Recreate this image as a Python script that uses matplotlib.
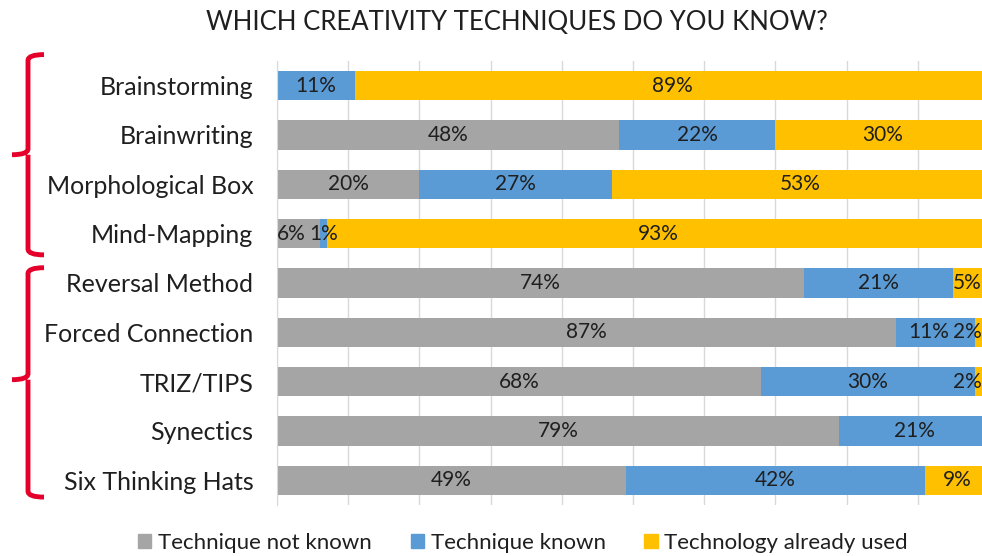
import matplotlib
matplotlib.use("Agg")
import matplotlib.pyplot as plt
import matplotlib.transforms as mtransforms
from matplotlib.path import Path
from matplotlib.patches import PathPatch, Patch
import numpy as np

# data
categories = ["Brainstorming", "Brainwriting", "Morphological Box", "Mind-Mapping",
              "Reversal Method", "Forced Connection", "TRIZ/TIPS", "Synectics",
              "Six Thinking Hats"]
not_known = [0, 48, 20, 6, 74, 87, 68, 79, 49]
known     = [11, 22, 27, 1, 21, 11, 30, 21, 42]
used      = [89, 30, 53, 93, 5, 2, 2, 0, 9]
series_names = ["Technique not known", "Technique known", "Technology already used"]
colors = ["#a5a5a5", "#5b9bd5", "#ffc000"]

plt.rcParams["font.family"] = ["Lato", "DejaVu Sans"]
TXT = "#1f1f1f"

fig = plt.figure(figsize=(9.82, 5.56), dpi=100)
W, H = 982, 556
ax = fig.add_axes([277 / W, 1 - 505 / H, 712 / W, 444 / H])

# visible right edge of the figure in data units (the 100% end is just past it)
x_edge = (W - 277) / 712 * 100

y = np.arange(len(categories))
left = np.zeros(len(categories))
row_labels = {i: [] for i in y}
for vals, col in zip([not_known, known, used], colors):
    vals = np.array(vals, dtype=float)
    ax.barh(y, vals, left=left, height=0.6, color=col, zorder=2)
    for yi, v, l in zip(y, vals, left):
        if v <= 0:
            continue
        xc = l + v / 2
        if xc + 1.6 > x_edge:
            t = ax.text(x_edge - 0.1, yi, f"{int(v)}%", ha="right", va="center",
                        fontsize=15, color=TXT, zorder=3)
        else:
            t = ax.text(xc, yi, f"{int(v)}%", ha="center", va="center",
                        fontsize=15, color=TXT, zorder=3)
        row_labels[yi].append(t)
    left += vals

ax.set_xlim(0, 100)
ax.set_ylim(len(categories) - 0.5, -0.5)
ax.set_xticks(np.arange(0, 101, 10))
ax.xaxis.grid(True, color="#d9d9d9", linewidth=1, zorder=0)
ax.tick_params(axis="x", length=0, labelbottom=False)
ax.tick_params(axis="y", length=0, pad=17)
ax.set_yticks(y)
ax.set_yticklabels(categories, fontsize=18, color=TXT)
for s in ["top", "right", "bottom"]:
    ax.spines[s].set_visible(False)
ax.spines["left"].set_color("#d9d9d9")

# push crowded value labels apart (right to left) so they do not overlap
fig.canvas.draw()
rend = fig.canvas.get_renderer()
px = 100 / 712
for labels in row_labels.values():
    for a, b in zip(labels[-2::-1], labels[:0:-1]):
        ea, eb = a.get_window_extent(rend), b.get_window_extent(rend)
        overlap = ea.x1 + 3 - eb.x0
        if overlap > 0:
            xa, ya = a.get_position()
            a.set_position((xa - overlap * px, ya))

fig.text(517 / W, 1 - 22 / H, "WHICH CREATIVITY TECHNIQUES DO YOU KNOW?",
         ha="center", va="center", fontsize=18.5, color=TXT)

# curly braces grouping the techniques
tr = mtransforms.blended_transform_factory(fig.transFigure, ax.transData)
def brace(top, mid, bottom):
    xv, xe, xc = 28 / W, 44 / W, 12 / W
    d = 0.12
    verts = [(xe, top), (xv, top), (xv, top + d),
             (xv, mid - d), (xv, mid), (xc, mid),
             (xv, mid), (xv, mid + d),
             (xv, bottom - d), (xv, bottom), (xe, bottom)]
    codes = [Path.MOVETO, Path.CURVE3, Path.CURVE3,
             Path.LINETO, Path.CURVE3, Path.CURVE3,
             Path.MOVETO, Path.CURVE3,
             Path.LINETO, Path.CURVE3, Path.CURVE3]
    p = PathPatch(Path(verts, codes), transform=tr, fill=False,
                  edgecolor="#e4002b", linewidth=3.5, clip_on=False)
    fig.patches.append(p)

brace(-0.63, 1.4, 3.43)
brace(3.69, 5.96, 8.34)

handles = [Patch(color=c) for c in colors]
fig.legend(handles, series_names, loc="center", bbox_to_anchor=(523 / W, 1 - 543 / H),
           ncol=3, frameon=False, fontsize=16, handlelength=0.6, handleheight=0.6,
           columnspacing=1.75, handletextpad=0.3, labelcolor=TXT)

fig.savefig("out.png", dpi=100)
